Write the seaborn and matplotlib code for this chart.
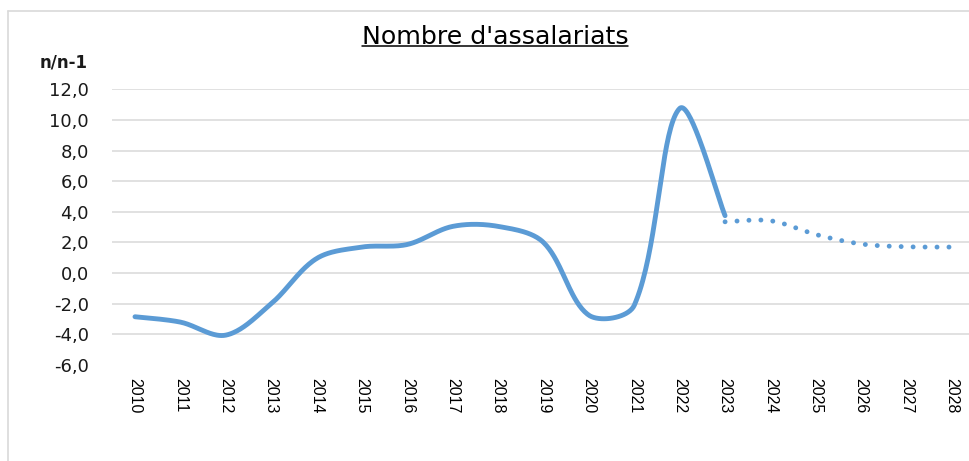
import numpy as np
import pandas as pd
import matplotlib
matplotlib.use('Agg')
import matplotlib.pyplot as plt
import seaborn as sns
from matplotlib.lines import Line2D

# data (n/n-1, %)
years_obs = [2010, 2011, 2012, 2013, 2014, 2015, 2016, 2017, 2018, 2019, 2020, 2021, 2022, 2023]
vals_obs = [-2.85, -3.2, -4.05, -2.0, 0.95, 1.7, 1.87, 3.05, 3.05, 2.0, -2.75, -2.1, 10.75, 3.75]
years_prev = [2023, 2024, 2025, 2026, 2027, 2028]
vals_prev = [3.35, 3.42, 2.52, 1.9, 1.72, 1.7]
all_years = list(range(2010, 2029))

title = "Nombre d'assalariats"
ylabel = 'n/n-1'
blue = '#5B9BD5'
grid_col = '#D9D9D9'

W, H = 970, 461
px_x, px_y = 45.4, 15.34  # pixels per year / per unit, for chord lengths


def smooth(x, y, n=40):
    # bezier smoothing (excel-like), arms scaled by chord length
    p = np.column_stack([x, y]).astype(float)
    s = np.array([px_x, px_y])
    d = lambda a, b: np.hypot(*((b - a) * s))
    out = []
    for i in range(len(p) - 1):
        p1, p2 = p[i], p[i + 1]
        d12 = d(p1, p2)
        if i > 0:
            p0 = p[i - 1]
            c1 = p1 + (p2 - p0) * d12 / (d(p0, p1) + d12) / 3
        else:
            c1 = p1 + (p2 - p1) / 6
        if i + 2 < len(p):
            p3 = p[i + 2]
            c2 = p2 - (p3 - p1) * d12 / (d12 + d(p2, p3)) / 3
        else:
            c2 = p2 - (p2 - p1) / 6
        t = np.linspace(0, 1, n)[:, None]
        seg = (1 - t) ** 3 * p1 + 3 * (1 - t) ** 2 * t * c1 + 3 * (1 - t) * t ** 2 * c2 + t ** 3 * p2
        out.append(seg if i == 0 else seg[1:])
    seg = np.vstack(out)
    return pd.DataFrame({'annee': seg[:, 0], 'valeur': seg[:, 1]})


sns.set_style('white')
plt.rcParams['font.family'] = ['DejaVu Sans']

fig = plt.figure(figsize=(9.7, 4.61), dpi=100)
ax = fig.add_axes([112.3 / W, 96 / H, 862.4 / W, 275.7 / H])

obs = smooth(years_obs, vals_obs)
prev = smooth(years_prev, vals_prev)
sns.lineplot(data=obs, x='annee', y='valeur', sort=False, color=blue, lw=3.5,
             solid_capstyle='round', ax=ax, zorder=3)
sns.lineplot(data=prev, x='annee', y='valeur', sort=False, color=blue, lw=3.5,
             linestyle=(0, (0.01, 2.45)), dash_capstyle='round', ax=ax, zorder=3)

ax.set_xlim(2009.5, 2028.5)
ax.set_ylim(-6, 12)
ax.set_yticks(np.arange(-6, 13, 2))
ax.set_yticklabels([f'{v:.1f}'.replace('.', ',') for v in np.arange(-6, 13, 2)], fontsize=13, color='#1a1a1a')
ax.set_xticks(all_years)
ax.set_xticklabels([str(y) for y in all_years], rotation=270, fontsize=11.5,
                   family=['Liberation Sans', 'DejaVu Sans'], color='black')
ax.tick_params(axis='y', length=0, pad=17)
ax.tick_params(axis='x', length=0, pad=9)
ax.set_xlabel('')
ax.set_ylabel('')
ax.yaxis.grid(True, color=grid_col, lw=1.1)
ax.get_ygridlines()[0].set_visible(False)
for s in ax.spines.values():
    s.set_visible(False)

# chart area border
fig.add_artist(Line2D([8 / W, 8 / W], [0, 1 - 11.5 / H], color=grid_col, lw=1.2))
fig.add_artist(Line2D([8 / W, 1], [1 - 11.5 / H, 1 - 11.5 / H], color=grid_col, lw=1.2))

fig.text(88 / W, 1 - 62 / H, ylabel, ha='right', va='center', fontsize=12, fontweight='bold', color='#1a1a1a')
t = fig.text(495 / W, 1 - 43.5 / H, title, ha='center', va='baseline', fontsize=18.2, color='black')
fig.canvas.draw()
bb = t.get_window_extent().transformed(fig.transFigure.inverted())
fig.add_artist(Line2D([bb.x0, bb.x1], [1 - 46.5 / H, 1 - 46.5 / H], color='black', lw=1.1))

plt.savefig('out.png', dpi=100)
